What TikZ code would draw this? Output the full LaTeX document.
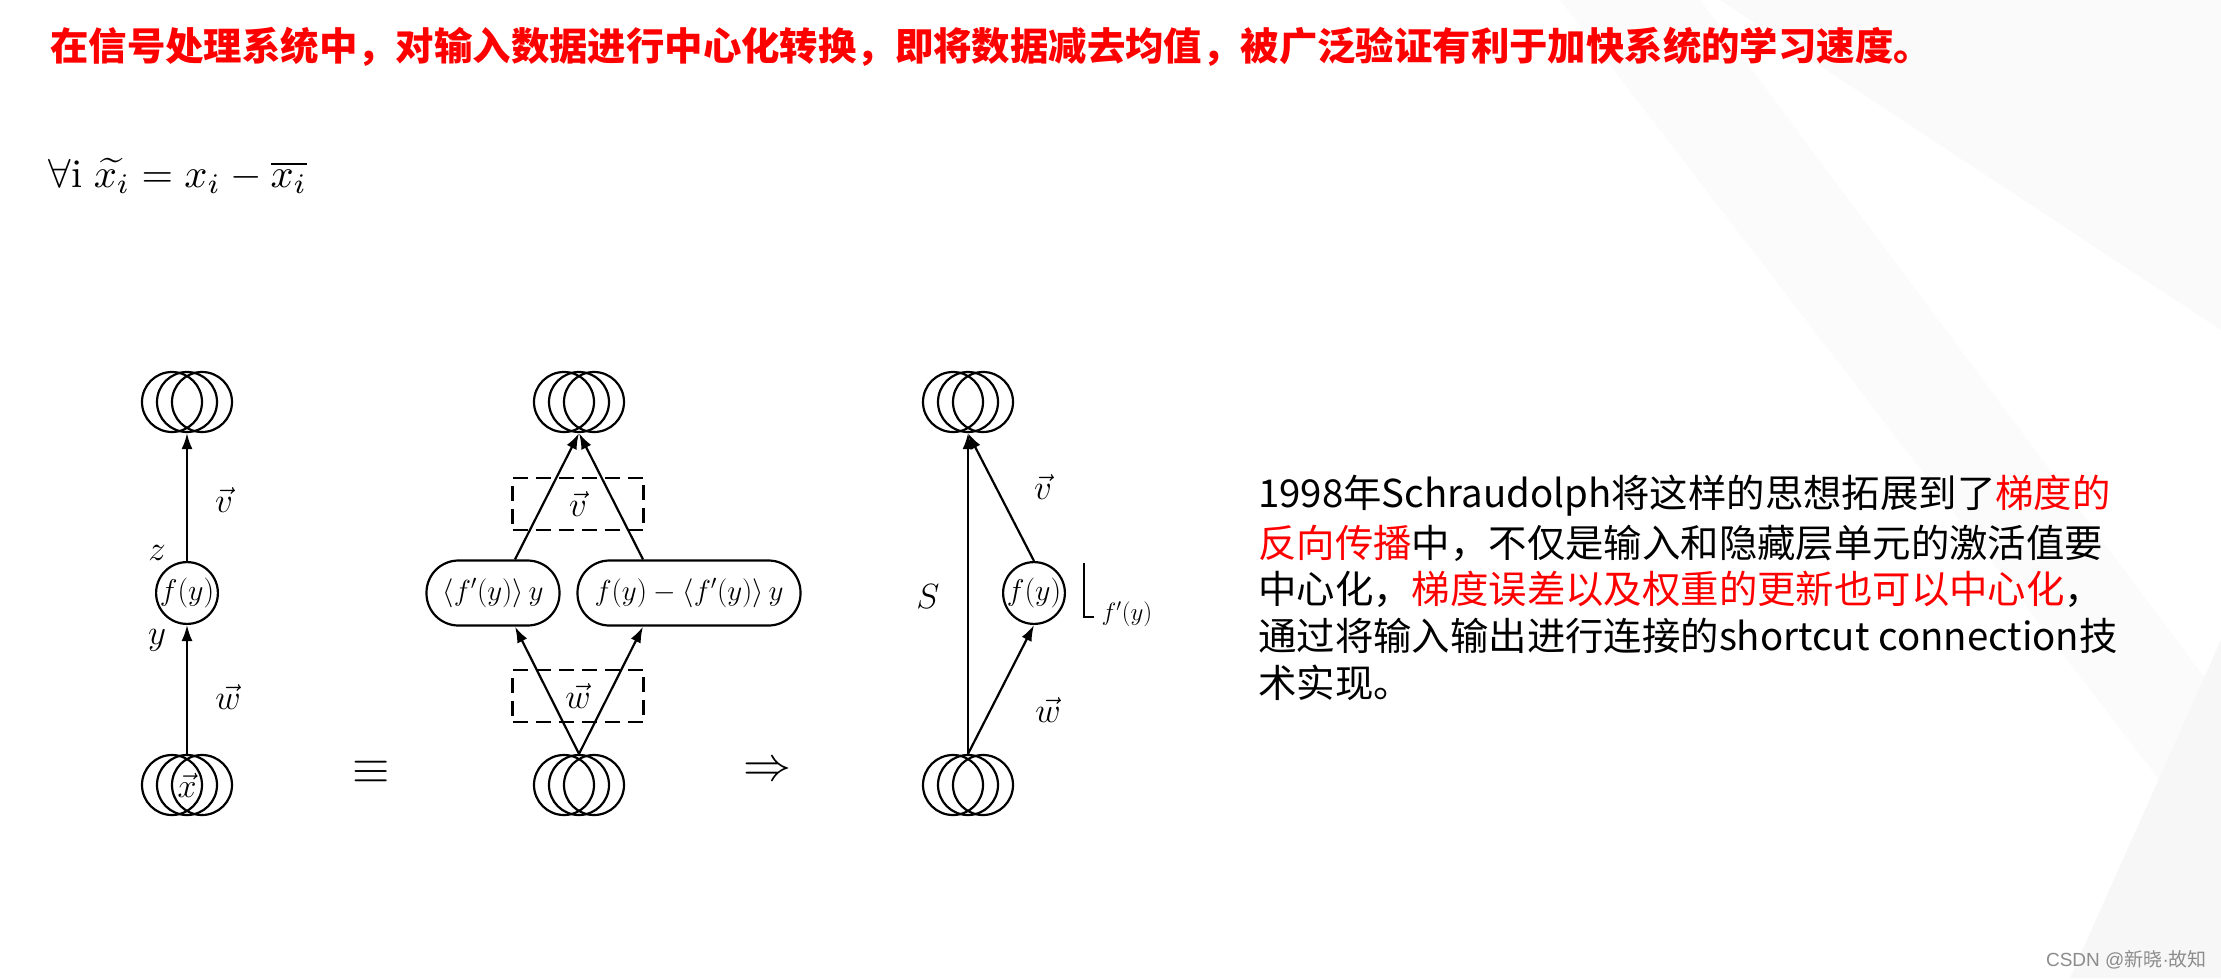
\RequirePackage{fix-cm}
\documentclass[tikz,border=0pt]{standalone}
\usepackage{fontspec}
\newfontfamily\cjk{Noto Sans CJK SC}
\newfontfamily\lat{Liberation Sans}
\usepackage{tikz}
\usetikzlibrary{positioning, arrows.meta}

\begin{document}
\begin{tikzpicture}[x=1pt, y=-1pt,
        layer/.style={circle, draw, line width=2.2pt, minimum size=60pt, inner sep=0pt, font=\fontsize{34}{36}\selectfont},
        unit/.style={circle, draw, line width=2.2pt, minimum size=61pt, inner sep=0pt, font=\fontsize{30}{32}\selectfont},
        pill/.style={rectangle, rounded corners=32pt, draw, line width=2.2pt, minimum height=65pt, inner sep=0pt, font=\fontsize{29}{31}\selectfont},
        dbox/.style={rectangle, draw, dash pattern=on 15pt off 8pt, line width=2.2pt, minimum width=131pt, minimum height=52pt, inner sep=0pt, font=\fontsize{35}{37}\selectfont},
        lbl/.style={inner sep=0pt, font=\fontsize{35}{37}\selectfont},
        rel/.style={inner sep=0pt, font=\fontsize{48}{50}\selectfont},
        arr/.style={line width=2.2pt, -{Latex[length=16pt, width=11pt]}},
        line/.style={anchor=west, inner sep=0pt, font=\cjk\fontsize{38.4}{46}\selectfont}
    ]
    \useasboundingbox (0,0) rectangle (2221,978);
    \fill[white] (0,0) rectangle (2221,978);
    % faint slide background
    \fill[black!2] (1720,0) -- (2221,0) -- (2221,330) -- cycle;
    \fill[black!1.5] (1560,0) -- (1700,0) -- (2221,700) -- (2221,860) -- cycle;
    \fill[black!3] (2221,640) -- (2070,978) -- (2221,978) -- cycle;

    % title and formula
    \node (Title) [anchor=west, inner sep=0pt, text=red, font=\cjk\bfseries\fontsize{38.4}{44}\selectfont] at (50,47)
        {在信号处理系统中，对输入数据进行中心化转换，即将数据减去均值，被广泛验证有利于加快系统的学习速度。};
    \node (Formula) [anchor=base west, inner sep=0pt, scale=4.05] at (48,187)
        {$\forall\mathrm{i}\;\widetilde{x_i}=x_i-\overline{x_i}$};

    % left network
    \node (outL) [layer] at (187,402) {};
    \node (fL) [unit] at (187,593) {$f(y)$};
    \node (inL) [layer] at (187,785) {$\vec{x}$};
    \draw[arr] (fL) -- (outL);
    \draw[arr] (inL) -- (fL);
    \node (vL) [lbl] at (224,500) {$\vec{v}$};
    \node (zL) [lbl] at (157,553) {$z$};
    \node (yL) [lbl] at (157,640) {$y$};
    \node (wL) [lbl] at (228,697) {$\vec{w}$};
    \node (Eq) [rel] at (371,772) {$\equiv$};

    % middle network
    \node (outM) [layer] at (579,402) {};
    \node (inM) [layer] at (579,785) {};
    \node (lp) [pill, minimum width=133pt] at (493,593) {$\langle f'(y)\rangle\,y$};
    \node (rp) [pill, minimum width=223pt] at (689,593) {$f(y)-\langle f'(y)\rangle\,y$};
    \node (vM) [dbox] at (578,504) {$\vec{v}$};
    \node (wM) [dbox] at (578,696) {$\vec{w}$};
    \draw[arr] (inM.north) -- ([xshift=22pt]lp.south);
    \draw[arr] (inM.north) -- ([xshift=-46pt]rp.south);
    \draw[arr] ([xshift=22pt]lp.north) -- (outM.south);
    \draw[arr] ([xshift=-46pt]rp.north) -- (outM.south);
    \node (Then) [rel] at (767,772) {$\Rightarrow$};

    % right network
    \node (outR) [layer] at (968,402) {};
    \node (fR) [unit] at (1034,593) {$f(y)$};
    \node (inR) [layer] at (968,785) {};
    \draw[arr] (inR.north) -- (outR.south);
    \draw[arr] (fR.north) -- (outR.south);
    \draw[arr] (inR.north) -- (fR.south);
    \node (S) [lbl] at (928,597) {$S$};
    \node (vR) [lbl] at (1043,487) {$\vec{v}$};
    \node (wR) [lbl] at (1048,710) {$\vec{w}$};
    \draw[line width=2pt] (1084,563) -- (1084,617) -- (1094,617);
    \node (dR) [inner sep=0pt, font=\fontsize{25}{27}\selectfont] at (1127,614) {$f'(y)$};

    % side layers of every unit
    \foreach \n in {outL, inL, outM, inM, outR, inR}
        \foreach \dx in {-15,15}
            \draw[line width=2.2pt] ([xshift=\dx pt]\n.center) circle (30pt);

    % explanation
    \node (t1) [line] at (1258,496) {1998年Schraudolph将这样的思想拓展到了\textcolor{red}{梯度的}};
    \node (t2) [line] at (1258,543) {\textcolor{red}{反向传播}中，不仅是输入和隐藏层单元的激活值要};
    \node (t3) [line] at (1258,589) {中心化，\textcolor{red}{梯度误差以及权重的更新也可以中心化}，};
    \node (t4) [line] at (1258,636) {通过将输入输出进行连接的shortcut connection技};
    \node (t5) [line] at (1258,683) {术实现。};

    \node (Mark) [anchor=east, inner sep=0pt, text=black!45, font=\cjk\fontsize{19}{21}\selectfont] at (2207,960) {{\lat CSDN @}新晓{\lat ·}故知};
\end{tikzpicture}
\end{document}
